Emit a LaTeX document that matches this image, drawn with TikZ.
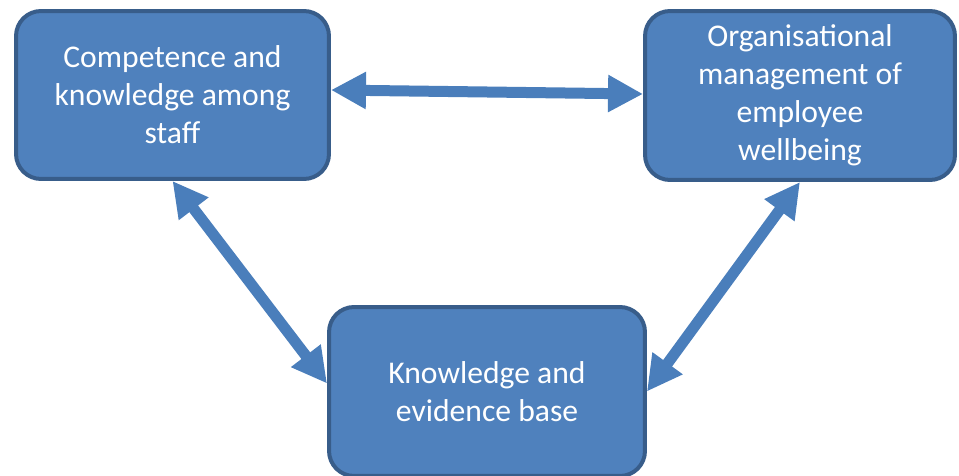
\documentclass[tikz,border=0pt]{standalone}
\usepackage{fontspec}
\setmainfont{Carlito}
\usepackage{tikz}
\usetikzlibrary{arrows.meta}
\definecolor{boxfill}{HTML}{4F81BD}
\definecolor{boxline}{HTML}{385D8A}
\definecolor{linkblue}{HTML}{4A7EBB}

\begin{document}
\begin{tikzpicture}[x=0.02cm, y=-0.02cm,
  topic/.style={rectangle, rounded corners=0.5cm, draw=boxline, fill=boxfill,
    line width=0.08cm, text=white, align=center, inner sep=0pt,
    font=\fontsize{18}{21.6}\selectfont},
  link/.style={draw=linkblue, line width=0.22cm,
    {Triangle[length=0.7cm, width=0.7cm]}-{Triangle[length=0.7cm, width=0.7cm]}}]
  \useasboundingbox (0,0) rectangle (959,476);
  % the three boxes
  \node[topic, minimum width=6.26cm, minimum height=3.36cm] (staff) at (172.5,95)
    {Competence and\\knowledge among\\staff};
  \node[topic, minimum width=6.2cm, minimum height=3.38cm] (org) at (800,95.5)
    {Organisational\\management of\\employee\\wellbeing};
  \node[topic, minimum width=6.32cm, minimum height=3.38cm] (evidence) at (487,391.5)
    {Knowledge and\\evidence base};
  % two-way links
  \draw[link] ([yshift=1mm]staff.east) -- ([yshift=0.3mm]org.west);
  \draw[link] (staff.south) -- ([yshift=1.6mm]evidence.west);
  \draw[link] (org.south) -- (evidence.east);
\end{tikzpicture}
\end{document}
